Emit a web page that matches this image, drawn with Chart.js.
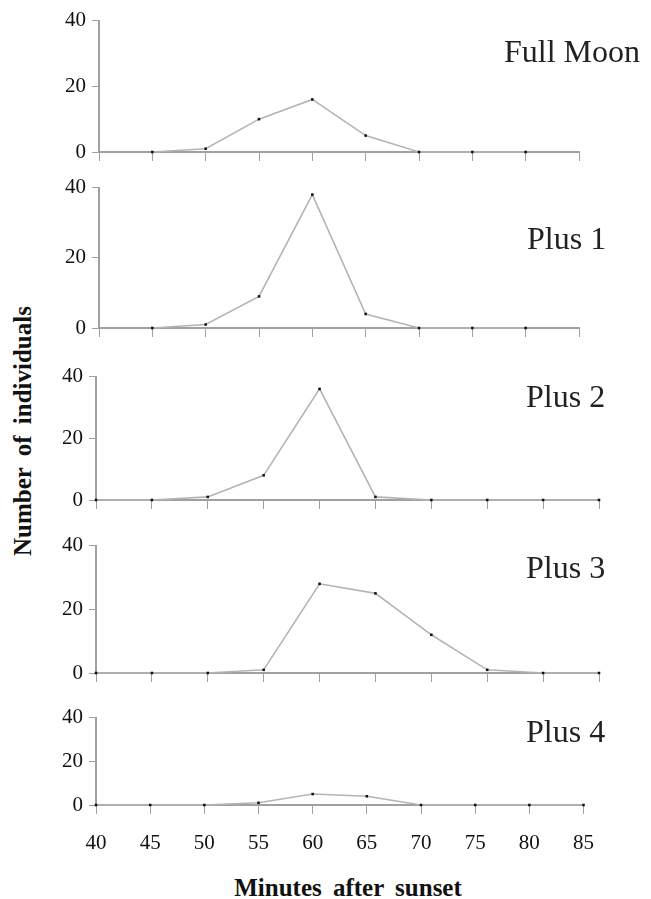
<!DOCTYPE html>
<html><head><meta charset="utf-8">
<script src="https://cdn.jsdelivr.net/npm/chart.js@4.4.1/dist/chart.umd.min.js"></script>
<style>
html,body{margin:0;padding:0;background:#fff;}
body{width:651px;height:899px;position:relative;overflow:hidden;}
canvas{position:absolute;}
.lab{position:absolute;font-family:'Liberation Serif',serif;font-size:32px;line-height:32px;color:#222;white-space:nowrap;}
.ttl{position:absolute;font-family:'Liberation Serif',serif;font-weight:bold;font-size:25px;line-height:25px;word-spacing:5px;color:#111;white-space:nowrap;}
</style></head><body>
<script>
// ---- data ----
const minutes = [40, 45, 50, 55, 60, 65, 70, 75, 80, 85];
const xTickLabels = ['40', '45', '50', '55', '60', '65', '70', '75', '80', '85'];
const yTickValues = [0, 20, 40];
const yTickLabels = ['0', '20', '40'];
const panelNames = ['Full Moon', 'Plus 1', 'Plus 2', 'Plus 3', 'Plus 4'];
const fullMoon = [null, 0, 1, 10, 16, 5, 0, 0, 0, null];
const plus1    = [null, 0, 1, 9, 38, 4, 0, 0, 0, null];
const plus2    = [0, 0, 1, 8, 36, 1, 0, 0, 0, 0];
const plus3    = [0, 0, 0, 1, 28, 25, 12, 1, 0, 0];
const plus4    = [0, 0, 0, 1, 5, 4, 0, 0, 0, 0];
const axisTitleX = 'Minutes after sunset';
const axisTitleY = 'Number of individuals';

// ---- layout (pixel boxes of each panel's plot area) ----
const boxes = [
  {L: 99, R: 579, T: 16,  B: 152},
  {L: 99, R: 579, T: 183, B: 328},
  {L: 96, R: 599, T: 372, B: 500},
  {L: 96, R: 599, T: 541, B: 673},
  {L: 96, R: 587, T: 713, B: 805}
];
const labelPos = [
  {right: 11, top: 35},
  {left: 527, top: 222},
  {left: 526, top: 380},
  {left: 526, top: 551},
  {left: 526, top: 715}
];
const series = [fullMoon, plus1, plus2, plus3, plus4];

const AXIS = '#a0a0a0';
const TICKFONT = {family: "'Liberation Serif', serif", size: 21};

function makePanel(values, box, showXLabels) {
  const Wy = 60, pt = 14, pr = 24, Hx = showXLabels ? 64 : 20;
  const c = document.createElement('canvas');
  const w = Wy + (box.R - box.L) + pr;
  const h = pt + (box.B - box.T) + Hx;
  c.width = w; c.height = h;
  c.style.width = w + 'px'; c.style.height = h + 'px';
  c.style.left = (box.L - Wy) + 'px';
  c.style.top = (box.T - pt) + 'px';
  document.body.appendChild(c);
  const pts = [];
  minutes.forEach((m, i) => { if (values[i] !== null) pts.push({x: m, y: values[i]}); });
  new Chart(c, {
    type: 'line',
    data: {datasets: [{
      data: pts,
      borderColor: '#b4b4b4', borderWidth: 1.6,
      pointRadius: 1.8, pointBackgroundColor: '#111', pointBorderWidth: 0,
      pointStyle: 'rect', clip: false, tension: 0
    }]},
    options: {
      responsive: false, animation: false, devicePixelRatio: 1,
      layout: {padding: {top: pt, right: pr, left: 0, bottom: 0}, autoPadding: false},
      plugins: {legend: {display: false}, tooltip: {enabled: false}},
      scales: {
        x: {
          type: 'linear', min: minutes[0], max: minutes[minutes.length - 1],
          afterFit: s => { s.height = Hx; },
          afterBuildTicks: s => { s.ticks = minutes.map(v => ({value: v})); },
          grid: {drawOnChartArea: false, drawTicks: true, tickLength: 9, color: AXIS, lineWidth: 1},
          border: {display: true, color: AXIS, width: 2},
          ticks: {display: showXLabels, padding: 17, font: TICKFONT, color: '#111',
                  callback: (v, i) => xTickLabels[i]}
        },
        y: {
          min: 0, max: 40,
          afterFit: s => { s.width = Wy; },
          afterBuildTicks: s => { s.ticks = yTickValues.map(v => ({value: v})); },
          grid: {drawOnChartArea: false, drawTicks: true, tickLength: 7, color: AXIS, lineWidth: 1},
          border: {display: true, color: AXIS, width: 2},
          ticks: {padding: 6, font: TICKFONT, color: '#111',
                  callback: (v, i) => yTickLabels[i]}
        }
      }
    }
  });
}

series.forEach((s, i) => makePanel(s, boxes[i], i === series.length - 1));

panelNames.forEach((name, i) => {
  const d = document.createElement('div');
  d.className = 'lab';
  d.textContent = name;
  const p = labelPos[i];
  if (p.right !== undefined) d.style.right = p.right + 'px'; else d.style.left = p.left + 'px';
  d.style.top = p.top + 'px';
  document.body.appendChild(d);
});

const tx = document.createElement('div');
tx.className = 'ttl';
tx.textContent = axisTitleX;
tx.style.left = '348px'; tx.style.top = '887px';
tx.style.transform = 'translate(-50%,-50%)';
document.body.appendChild(tx);

const ty = document.createElement('div');
ty.className = 'ttl';
ty.textContent = axisTitleY;
ty.style.left = '22px'; ty.style.top = '431px';
ty.style.transform = 'translate(-50%,-50%) rotate(-90deg)';
document.body.appendChild(ty);
</script>
</body></html>
